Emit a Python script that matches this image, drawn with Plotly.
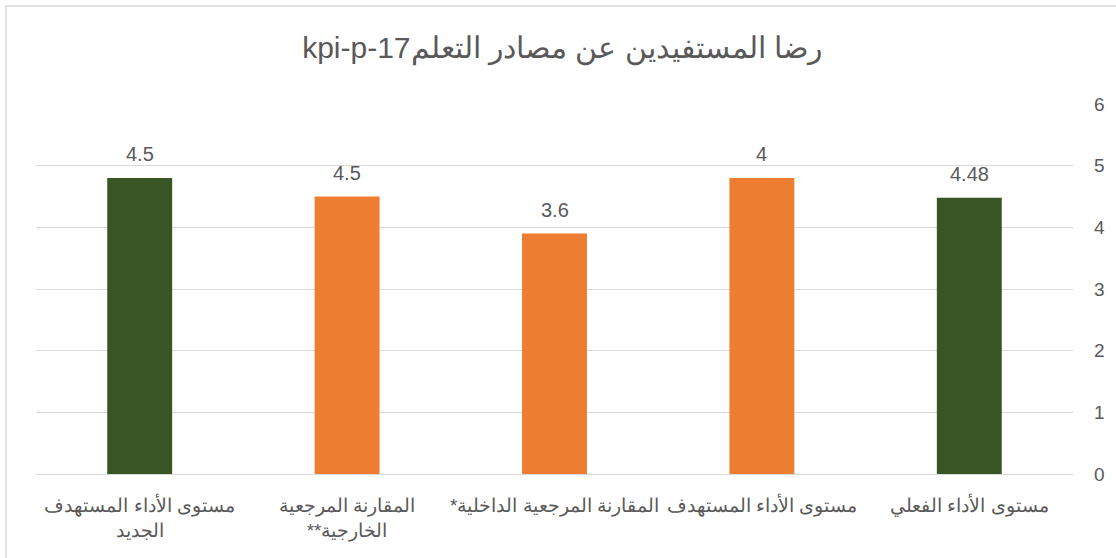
import plotly.graph_objects as go

RLE, PDF = "\u202b", "\u202c"

# categories in right-to-left order (first = rightmost)
categories = [
    "مستوى الأداء الفعلي",
    "مستوى الأداء المستهدف",
    "المقارنة المرجعية الداخلية*",
    "المقارنة المرجعية<br>الخارجية**",
    "مستوى الأداء المستهدف<br>الجديد",
]
bar_heights = [4.48, 4.8, 3.9, 4.5, 4.8]
label_texts = ["4.48", "4", "3.6", "4.5", "4.5"]
bar_colors = ["#375623", "#ED7D31", "#ED7D31", "#ED7D31", "#375623"]
y_ticks = [0, 1, 2, 3, 4, 5, 6]
title_text = "رضا المستفيدين عن مصادر التعلمkpi-p-17"


def rtl(s):
    return "<br>".join(RLE + part + PDF for part in s.split("<br>"))


cat_keys = [f"c{i}" for i in range(len(categories))]

fig = go.Figure(
    go.Bar(
        x=cat_keys,
        y=bar_heights,
        marker=dict(color=bar_colors, line=dict(width=0)),
        hoverinfo="skip",
    )
)

for k, h, t in zip(cat_keys, bar_heights, label_texts):
    fig.add_annotation(
        x=k, y=h, text=t, showarrow=False, yanchor="bottom", yshift=11,
        font=dict(size=20, color="#595959", family="Liberation Sans, Arial"),
    )

W, H = 1116, 558
L, R, T, B = 36, 43, 104, 84
pw, ph = W - L - R, H - T - B
bottom_px = H - B

fig.update_layout(
    width=W,
    height=H,
    margin=dict(l=L, r=R, t=T, b=B),
    paper_bgcolor="white",
    plot_bgcolor="white",
    bargap=0.687,
    showlegend=False,
    title=dict(
        text=RLE + title_text + PDF,
        x=562 / W,
        xanchor="center",
        y=1 - 47 / H,
        yanchor="middle",
        font=dict(size=30, color="#595959", family="Liberation Sans, Arial"),
    ),
    font=dict(family="Liberation Sans, Arial", color="#595959"),
    xaxis=dict(
        autorange="reversed",
        tickmode="array",
        tickvals=cat_keys,
        ticktext=[rtl(c) for c in categories],
        tickfont=dict(size=19, color="#595959"),
        showgrid=False,
        showline=False,
        ticks="",
        ticklabelstandoff=18,
    ),
    yaxis=dict(
        side="right",
        range=[0, 6],
        tickvals=y_ticks,
        tickfont=dict(size=19, color="#595959"),
        showgrid=True,
        gridcolor="#d9d9d9",
        gridwidth=1,
        zeroline=True,
        zerolinecolor="#d9d9d9",
        zerolinewidth=1,
        showline=False,
        ticks="",
        ticklabelstandoff=20,
    ),
    shapes=[
        dict(
            type="rect",
            xref="paper",
            yref="paper",
            x0=(6 - L) / pw,
            x1=(W + 5 - L) / pw,
            y0=(bottom_px - (H + 5)) / ph,
            y1=(bottom_px - 6) / ph,
            line=dict(color="#d9d9d9", width=1.5),
            fillcolor="rgba(0,0,0,0)",
            layer="below",
        )
    ],
)

fig.write_html(
    "out.html",
    config={"displayModeBar": False},
    post_script="document.body.style.margin='0';",
)
